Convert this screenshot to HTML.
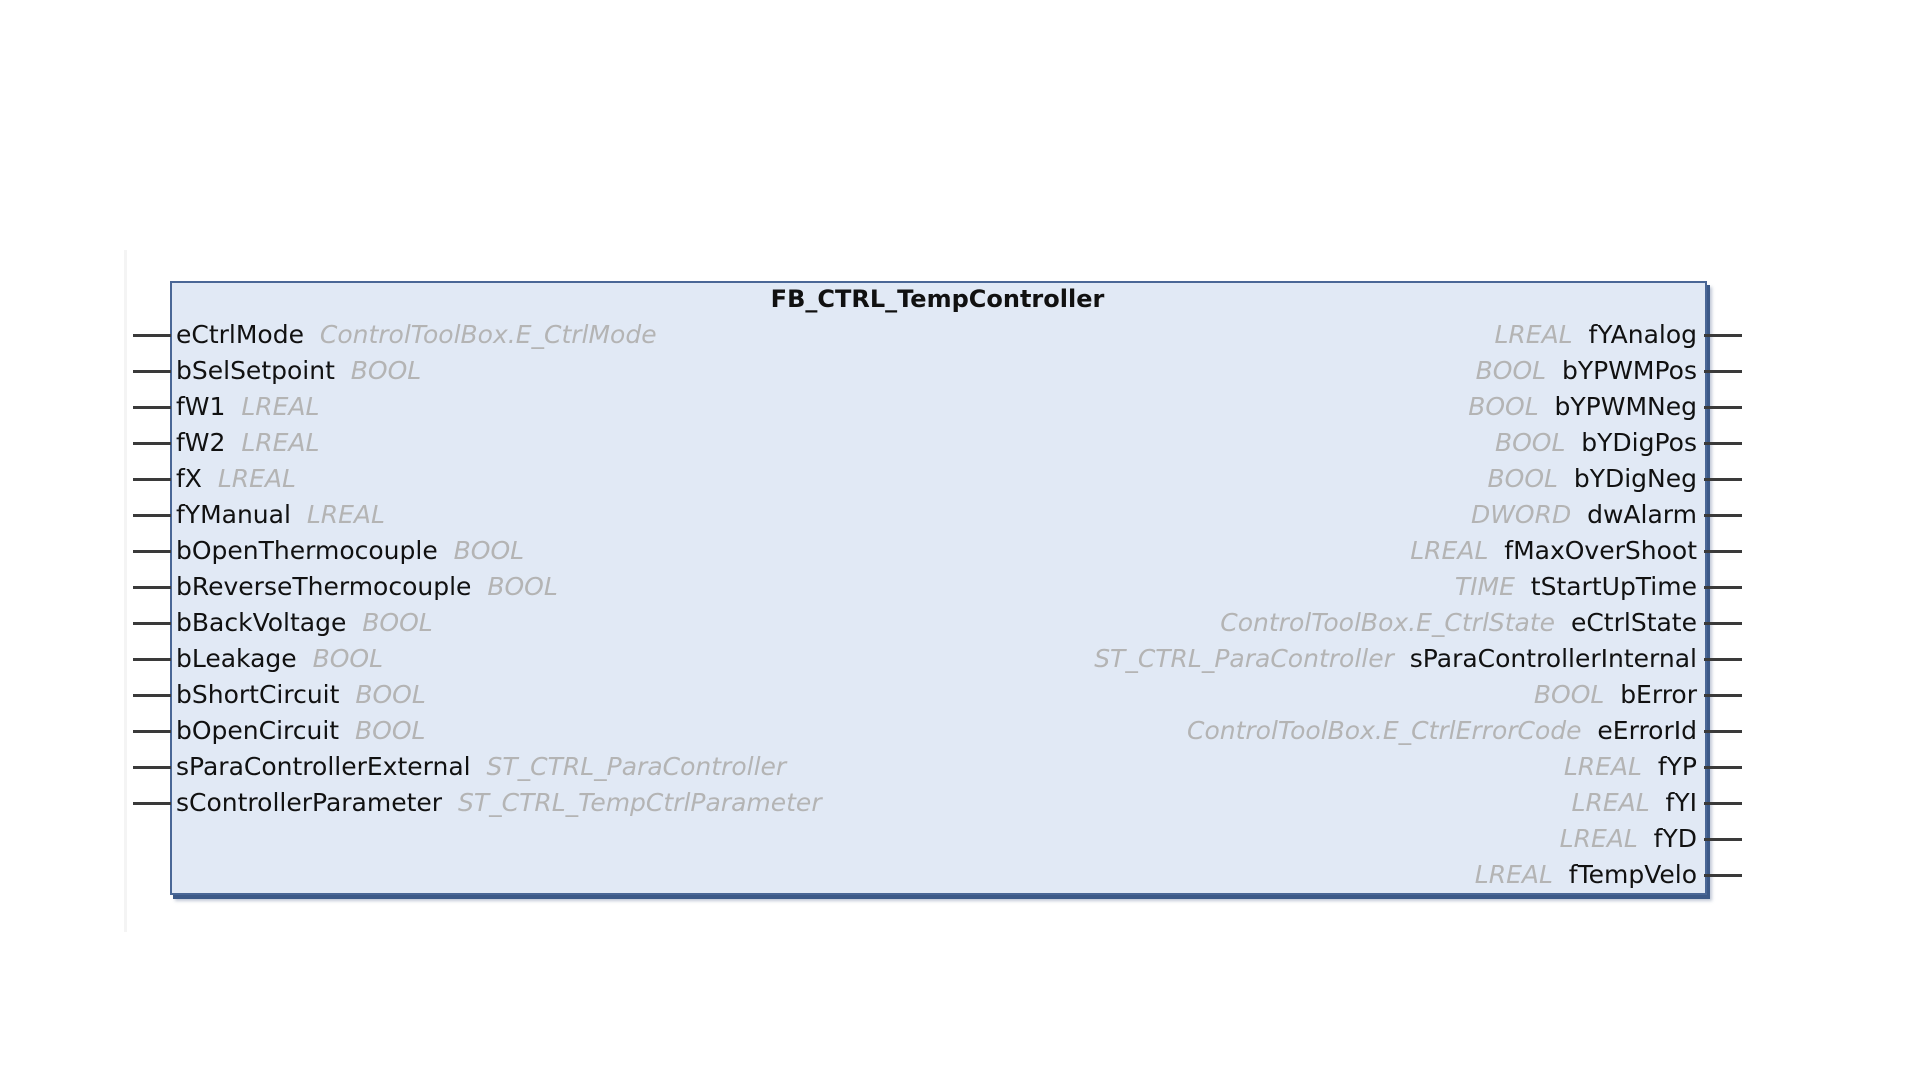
<!DOCTYPE html>
<html><head><meta charset="utf-8"><style>
html,body{margin:0;padding:0;background:#fff;width:1920px;height:1080px;overflow:hidden;position:relative;font-family:"DejaVu Sans","Liberation Sans",sans-serif;}
.vline{position:absolute;left:124px;top:250px;width:3px;height:682px;background:#f4f4f4;}
.box{position:absolute;left:170px;top:281px;width:1533px;height:610px;background:#e1e9f5;border:2px solid #4a6796;box-shadow:3px 4px 0 #3d5a88, 5px 6px 3px rgba(80,100,140,0.35);}
.title{position:absolute;left:170px;width:1535px;top:283px;text-align:center;font-weight:bold;font-size:24px;line-height:32px;color:#111;}
.r{position:absolute;font-size:25px;line-height:32px;color:#111;white-space:nowrap;}
.l{left:176px;}
.rt{right:223px;text-align:right;}
.t{color:#b4b4b4;font-style:italic;}
.pin{position:absolute;height:3px;background:#3a3a3a;}
</style></head><body>
<div class="vline"></div>
<div class="box"></div>
<div class="title">FB_CTRL_TempController</div>
<div id="c"></div>
<script>
var L=[["eCtrlMode","ControlToolBox.E_CtrlMode"],["bSelSetpoint","BOOL"],["fW1","LREAL"],["fW2","LREAL"],["fX","LREAL"],["fYManual","LREAL"],["bOpenThermocouple","BOOL"],["bReverseThermocouple","BOOL"],["bBackVoltage","BOOL"],["bLeakage","BOOL"],["bShortCircuit","BOOL"],["bOpenCircuit","BOOL"],["sParaControllerExternal","ST_CTRL_ParaController"],["sControllerParameter","ST_CTRL_TempCtrlParameter"]];
var R=[["fYAnalog","LREAL"],["bYPWMPos","BOOL"],["bYPWMNeg","BOOL"],["bYDigPos","BOOL"],["bYDigNeg","BOOL"],["dwAlarm","DWORD"],["fMaxOverShoot","LREAL"],["tStartUpTime","TIME"],["eCtrlState","ControlToolBox.E_CtrlState"],["sParaControllerInternal","ST_CTRL_ParaController"],["bError","BOOL"],["eErrorId","ControlToolBox.E_CtrlErrorCode"],["fYP","LREAL"],["fYI","LREAL"],["fYD","LREAL"],["fTempVelo","LREAL"]];
var h="";
for(var i=0;i<L.length;i++){var y=335.5+i*36;
h+='<div class="pin" style="left:133px;width:38px;top:'+(y-1.5)+'px"></div>';
h+='<div class="r l" style="top:'+(y-17)+'px">'+L[i][0]+'&nbsp; <span class="t">'+L[i][1]+'</span></div>';}
for(var i=0;i<R.length;i++){var y=335.5+i*36;
h+='<div class="pin" style="left:1704px;width:38px;top:'+(y-1.5)+'px"></div>';
h+='<div class="r rt" style="top:'+(y-17)+'px"><span class="t">'+R[i][1]+'</span>&nbsp; '+R[i][0]+'</div>';}
document.getElementById("c").innerHTML=h;
</script>
</body></html>
